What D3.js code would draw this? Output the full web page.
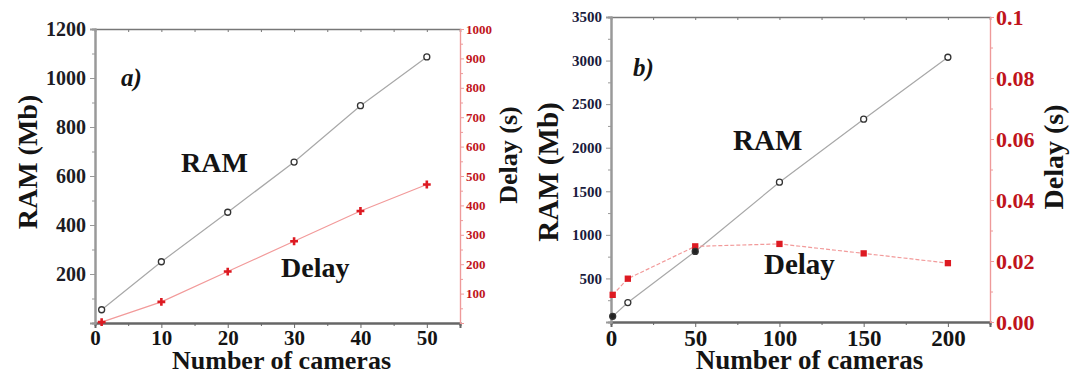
<!DOCTYPE html>
<html>
<head>
<meta charset="utf-8">
<script src="https://cdn.jsdelivr.net/npm/d3@7/dist/d3.min.js"></script>
<style>
  body { margin: 0; background: #fff; }
  svg { display: block; }
  text { font-family: "Liberation Serif", "Times New Roman", serif; font-weight: bold; }
</style>
</head>
<body>
<svg id="chart" width="1070" height="376"></svg>
<script>
// panel a) : up to 50 cameras
const camerasA = [1, 10, 20, 30, 40, 50];
const ramA = [54, 250, 452, 657, 887, 1086];
const delayA = [3, 72, 175, 278, 381, 471];
const xTicksA = [0, 10, 20, 30, 40, 50];
const ramTicksA = [200, 400, 600, 800, 1000, 1200];
const delayTicksA = [100, 200, 300, 400, 500, 600, 700, 800, 900, 1000];

// panel b) : up to 200 cameras
const camerasB = [1, 10, 50, 100, 150, 200];
const ramB = [65, 223, 810, 1604, 2327, 3038];
const delayB = [0.0089, 0.0142, 0.0248, 0.0256, 0.0225, 0.0193];
const xTicksB = [0, 50, 100, 150, 200];
const ramTicksB = [500, 1000, 1500, 2000, 2500, 3000, 3500];
const delayTicksB = [0, 0.02, 0.04, 0.06, 0.08, 0.1];

const svg = d3.select('#chart');

// styles an axis group: line colour, tick colour, label look
function styleAxis(g, color, width, labelColor, fontSize) {
  g.select('.domain').attr('stroke', color).attr('stroke-width', width);
  g.selectAll('.tick line').attr('stroke', color).attr('stroke-width', 1);
  g.selectAll('.tick text')
    .attr('fill', labelColor)
    .style('font-size', fontSize + 'px')
    .style('font-family', '"Liberation Serif", serif')
    .style('font-weight', 'bold');
}

function drawPanel(p) {
  const g = svg.append('g');
  const [x0, x1] = p.x.range();
  const [y0, y1] = p.y.range();

  // minor ticks first, majors over them
  g.append('g').attr('transform', `translate(0,${y0})`)
    .call(d3.axisBottom(p.x).tickValues(p.xMinor).tickSize(3).tickFormat(''))
    .call(s => styleAxis(s, '#666', 2, '#111', 0));
  g.append('g').attr('transform', `translate(0,${y0})`)
    .call(d3.axisBottom(p.x).tickValues(p.xTicks).tickSize(5).tickPadding(p.xPad).tickFormat(d3.format('d')))
    .call(s => styleAxis(s, '#666', 2, '#141414', p.xFont));

  // top frame with inner ticks
  g.append('g').attr('transform', `translate(0,${y1})`)
    .call(d3.axisBottom(p.x).tickValues(p.xMinor.concat(p.xTicks)).tickSize(3).tickFormat(''))
    .call(s => styleAxis(s, '#777', 1.6, '#111', 0));

  g.append('g').attr('transform', `translate(${x0},0)`)
    .call(d3.axisLeft(p.y).tickValues(p.yMinor).tickSize(3).tickFormat(''))
    .call(s => styleAxis(s, '#999', 2, '#111', 0));
  g.append('g').attr('transform', `translate(${x0},0)`)
    .call(d3.axisLeft(p.y).tickValues(p.yTicks).tickSize(5).tickPadding(4).tickFormat(d3.format('d')))
    .call(s => styleAxis(s, '#999', 2, p.yColor, p.yFont));

  g.append('g').attr('transform', `translate(${x1},0)`)
    .call(d3.axisRight(p.d).tickValues(p.dMinor).tickSize(3).tickFormat(''))
    .call(s => styleAxis(s, '#ee9a9a', 1.2, '#c00', 0));
  g.append('g').attr('transform', `translate(${x1},0)`)
    .call(d3.axisRight(p.d).tickValues(p.dTicks).tickSize(4).tickPadding(2).tickFormat(p.dFormat))
    .call(s => styleAxis(s, '#ee9a9a', 1.2, '#c0141c', p.dFont));

  // RAM series
  const ramPts = p.cameras.map((c, i) => [p.x(c), p.y(p.ram[i])]);
  g.append('path').attr('d', d3.line()(ramPts))
    .attr('fill', 'none').attr('stroke', '#a8a8a8').attr('stroke-width', 1.2);

  // Delay series
  const delayPts = p.cameras.map((c, i) => [p.x(c), p.d(p.delay[i])]);
  g.append('path').attr('d', d3.line()(delayPts))
    .attr('fill', 'none').attr('stroke', '#f29a9a').attr('stroke-width', 1.2)
    .attr('stroke-dasharray', p.dash);

  g.selectAll('.dmark').data(delayPts).enter().append('path')
    .attr('transform', d => `translate(${d[0]},${d[1]})`)
    .attr('d', d3.symbol(p.delaySymbol, p.delaySize)())
    .attr('fill', '#dd1a22');

  g.selectAll('.rmark').data(ramPts).enter().append('circle')
    .attr('cx', d => d[0]).attr('cy', d => d[1]).attr('r', 3)
    .attr('fill', (d, i) => p.filled.includes(i) ? '#222' : '#fff')
    .attr('stroke', '#333').attr('stroke-width', 1.3);

  // labels
  g.append('text').attr('x', (x0 + x1) / 2 + p.titleShift).attr('y', 369)
    .attr('text-anchor', 'middle').style('font-size', p.titleFont + 'px').attr('fill', '#141414')
    .text('Number of cameras');
  g.append('text').attr('transform', `translate(${p.ramLabel[0]},${p.ramLabel[1]}) rotate(-90)`)
    .attr('text-anchor', 'middle').style('font-size', p.ramFont + 'px').attr('fill', '#141414')
    .text('RAM (Mb)');
  g.append('text').attr('transform', `translate(${p.delayLabel[0]},${p.delayLabel[1]}) rotate(-90)`)
    .attr('text-anchor', 'middle').style('font-size', p.delayFont + 'px').attr('fill', '#141414')
    .text('Delay (s)');
  g.append('text').attr('x', p.tag[0]).attr('y', p.tag[1])
    .style('font-size', '25px').style('font-style', 'italic').attr('fill', '#141414')
    .text(p.tagText);
  g.append('text').attr('x', p.ramText[0]).attr('y', p.ramText[1])
    .style('font-size', p.seriesFont + 'px').attr('fill', '#141414').text('RAM');
  g.append('text').attr('x', p.delayText[0]).attr('y', p.delayText[1])
    .style('font-size', p.seriesFont + 'px').attr('fill', '#141414').text('Delay');
}

drawPanel({
  x: d3.scaleLinear().domain([0, 55]).range([95, 460]),
  y: d3.scaleLinear().domain([0, 1200]).range([323, 29]),
  d: d3.scaleLinear().domain([0, 1000]).range([323, 29]),
  cameras: camerasA, ram: ramA, delay: delayA,
  xTicks: xTicksA, xMinor: d3.range(5, 56, 10),
  yTicks: ramTicksA, yMinor: d3.range(100, 1200, 200),
  dTicks: delayTicksA, dMinor: d3.range(50, 1000, 100),
  dFormat: d3.format('d'),
  xFont: 21, xPad: 2, yFont: 20, yColor: '#1c1c24', dFont: 13,
  delaySymbol: d3.symbolCross, delaySize: 34, dash: null, filled: [],
  titleFont: 26, titleShift: 4,
  ramLabel: [37, 162], ramFont: 28,
  delayLabel: [517, 155], delayFont: 26,
  tag: [121, 86], tagText: 'a)',
  ramText: [181, 172], delayText: [281, 277], seriesFont: 28
});

drawPanel({
  x: d3.scaleLinear().domain([0, 225]).range([611, 990]),
  y: d3.scaleLinear().domain([0, 3500]).range([322, 17]),
  d: d3.scaleLinear().domain([0, 0.1]).range([322, 17]),
  cameras: camerasB, ram: ramB, delay: delayB,
  xTicks: xTicksB, xMinor: d3.range(25, 226, 50),
  yTicks: ramTicksB, yMinor: d3.range(250, 3500, 500),
  dTicks: delayTicksB, dMinor: d3.range(0.01, 0.1, 0.02),
  dFormat: d => d === 0.1 ? '0.1' : d3.format('.2f')(d),
  xFont: 23, xPad: 3, yFont: 15, yColor: '#1a1a3c', dFont: 22,
  delaySymbol: d3.symbolSquare, delaySize: 40, dash: '4,2', filled: [0, 2],
  titleFont: 27, titleShift: 9,
  ramLabel: [558, 172], ramFont: 29,
  delayLabel: [1063, 157], delayFont: 28,
  tag: [633, 76], tagText: 'b)',
  ramText: [733, 150], delayText: [764, 274], seriesFont: 29
});
</script>
</body>
</html>
